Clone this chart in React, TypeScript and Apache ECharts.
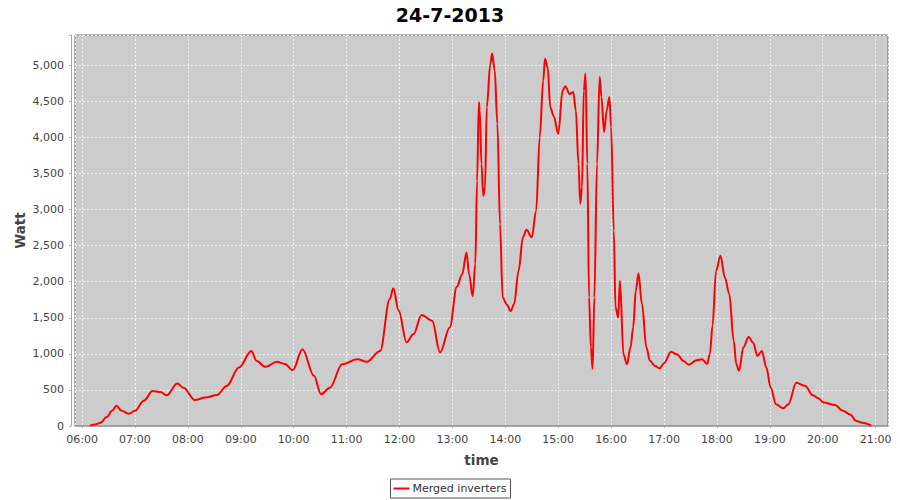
import React, { useEffect, useRef } from "react";
import * as echarts from "echarts";

const chartTitle = "24-7-2013";
const seriesName = "Merged inverters";
const yTickStep = 500;

const times = [
  "06:09", "06:15", "06:21", "06:28", "06:34", "06:39", "06:45", "06:53", "07:00", "07:10",
  "07:20", "07:29", "07:36", "07:48", "07:55", "08:08", "08:20", "08:33", "08:44", "08:58",
  "09:12", "09:18", "09:28", "09:41", "09:50", "09:59", "10:10", "10:23", "10:31", "10:41",
  "10:55", "11:12", "11:23", "11:38", "11:49", "11:53", "11:59", "12:08", "12:16", "12:25",
  "12:37", "12:46", "12:57", "13:05", "13:11", "13:16", "13:19", "13:23", "13:26", "13:28",
  "13:30", "13:31", "13:33", "13:35", "13:37", "13:39", "13:43", "13:45", "13:48", "13:51",
  "13:54", "13:57", "14:02", "14:06", "14:10", "14:15", "14:20", "14:24", "14:30", "14:35",
  "14:39", "14:43", "14:45", "14:48", "14:51", "14:55", "15:00", "15:05", "15:08", "15:13",
  "15:17", "15:20", "15:23", "15:25", "15:27", "15:29", "15:31", "15:33", "15:35", "15:37",
  "15:39", "15:41", "15:44", "15:47", "15:49", "15:52", "15:55", "15:58", "16:00", "16:03",
  "16:05", "16:08", "16:10", "16:14", "16:18", "16:22", "16:25", "16:28", "16:31", "16:35",
  "16:40", "16:44", "16:50", "16:55", "17:00", "17:08", "17:15", "17:22", "17:28", "17:37",
  "17:43", "17:49", "17:52", "17:55", "17:59", "18:04", "18:09", "18:14", "18:19", "18:22",
  "18:25", "18:30", "18:36", "18:41", "18:46", "18:51", "18:56", "19:01", "19:07", "19:15",
  "19:21", "19:30", "19:40", "19:49", "19:55", "20:01", "20:14", "20:23", "20:31", "20:38",
  "20:45", "20:55"
];

const watts = [
  5, 20, 45, 125, 210, 280, 210, 170, 210, 350,
  485, 470, 425, 590, 530, 360, 395, 430, 555, 810,
  1040, 900, 820, 890, 860, 775, 1065, 695, 440, 530,
  855, 925, 890, 1040, 1760, 1910, 1600, 1160, 1275, 1540,
  1460, 1020, 1365, 1930, 2100, 2400, 2100, 1800, 2250, 3400,
  4490, 4380, 3630, 3190, 3310, 4420, 5020, 5165, 4930, 4190,
  2800, 1780, 1680, 1590, 1690, 2150, 2615, 2720, 2615, 2985,
  4000, 4790, 5090, 4975, 4420, 4290, 4050, 4650, 4710, 4600,
  4630, 4375, 3635, 3080, 3310, 4650, 4885, 3635, 1780, 1090,
  790, 1780, 3635, 4840, 4560, 4075, 4375, 4560, 4145, 2710,
  1645, 1505, 2015, 995, 855, 1090, 1365, 1875, 2115, 1690,
  1090, 905, 830, 800, 870, 1030, 990, 900, 850, 910,
  925, 860, 1000, 1390, 2150, 2360, 2060, 1830, 1180, 855,
  765, 1090, 1235, 1155, 970, 1040, 810, 530, 300, 245,
  300, 600, 555, 425, 385, 325, 290, 210, 160, 70,
  45, 5
];

const xStart = "05:52";
const xEnd = "21:14";
const yMax = 5420;

const toTs = (hm: string) => {
  const [h, m] = hm.split(":").map(Number);
  return new Date(2013, 6, 24, h, m).getTime();
};

export default function App() {
  const ref = useRef<HTMLDivElement>(null);
  useEffect(() => {
    if (!ref.current) return;
    const chart = echarts.init(ref.current, undefined, { renderer: "svg" });
    const font = "DejaVu Sans";
    chart.setOption({
      animation: false,
      backgroundColor: "#ffffff",
      textStyle: { fontFamily: font },
      title: {
        text: chartTitle,
        left: "center",
        top: 0,
        textStyle: { fontFamily: font, fontSize: 19, fontWeight: "bold", color: "#000" },
      },
      grid: {
        left: 75,
        right: 12,
        top: 35,
        bottom: 74,
        show: true,
        backgroundColor: "#cccccc",
        borderColor: "#6e6e6e",
        borderWidth: 1,
      },
      legend: {
        bottom: 2,
        left: "center",
        icon: "rect",
        itemWidth: 16,
        itemHeight: 2,
        itemGap: 4,
        padding: [4, 4, 4, 3],
        borderColor: "#555",
        borderWidth: 1,
        borderRadius: 0,
        textStyle: { fontFamily: font, fontSize: 11, color: "#333", padding: [0, 0, 0, -2] },
        data: [seriesName],
      },
      xAxis: {
        type: "time",
        min: toTs(xStart),
        max: toTs(xEnd),
        minInterval: 3600000,
        maxInterval: 3600000,
        offset: 3,
        name: "time",
        nameLocation: "middle",
        nameGap: 24,
        nameTextStyle: { fontFamily: font, fontSize: 13.5, fontWeight: "bold", color: "#444" },
        axisLine: { show: true, lineStyle: { color: "#a8a8a8", width: 1 } },
        axisTick: { show: true, length: 2, lineStyle: { color: "#a8a8a8" } },
        axisLabel: {
          formatter: "{HH}:{mm}",
          fontFamily: font,
          fontSize: 11,
          color: "#444",
          margin: 5,
          hideOverlap: false,
        },
        splitLine: { show: true, lineStyle: { color: "#f2f2f2", type: [2, 2], width: 1 } },
      },
      yAxis: {
        type: "value",
        min: 0,
        max: yMax,
        interval: yTickStep,
        offset: 4,
        name: "Watt",
        nameLocation: "middle",
        nameGap: 44,
        nameMoveOverlap: false,
        nameRotate: 90,
        nameTextStyle: { fontFamily: font, fontSize: 13.5, fontWeight: "bold", color: "#444" },
        axisLine: { show: true, lineStyle: { color: "#a8a8a8", width: 1 } },
        axisTick: { show: true, length: 2, lineStyle: { color: "#a8a8a8" } },
        axisLabel: {
          fontFamily: font,
          fontSize: 11,
          color: "#444",
          margin: 7,
          formatter: (v: number) =>
            v % yTickStep === 0 ? v.toLocaleString("en-US") : "",
        },
        splitLine: { show: true, lineStyle: { color: "#f2f2f2", type: [2, 2], width: 1 } },
      },
      series: [
        {
          name: seriesName,
          type: "line",
          data: times.map((t, i) => [toTs(t), watts[i]]),
          showSymbol: false,
          symbol: "none",
          smooth: 0.35,
          smoothMonotone: "x",
          lineStyle: { color: "#ff0000", width: 2 },
          itemStyle: { color: "#ff0000" },
        },
      ],
    });
    return () => chart.dispose();
  }, []);
  return (
    <div
      ref={ref}
      style={{ position: "fixed", left: 0, top: 0, width: 900, height: 500 }}
    />
  );
}
